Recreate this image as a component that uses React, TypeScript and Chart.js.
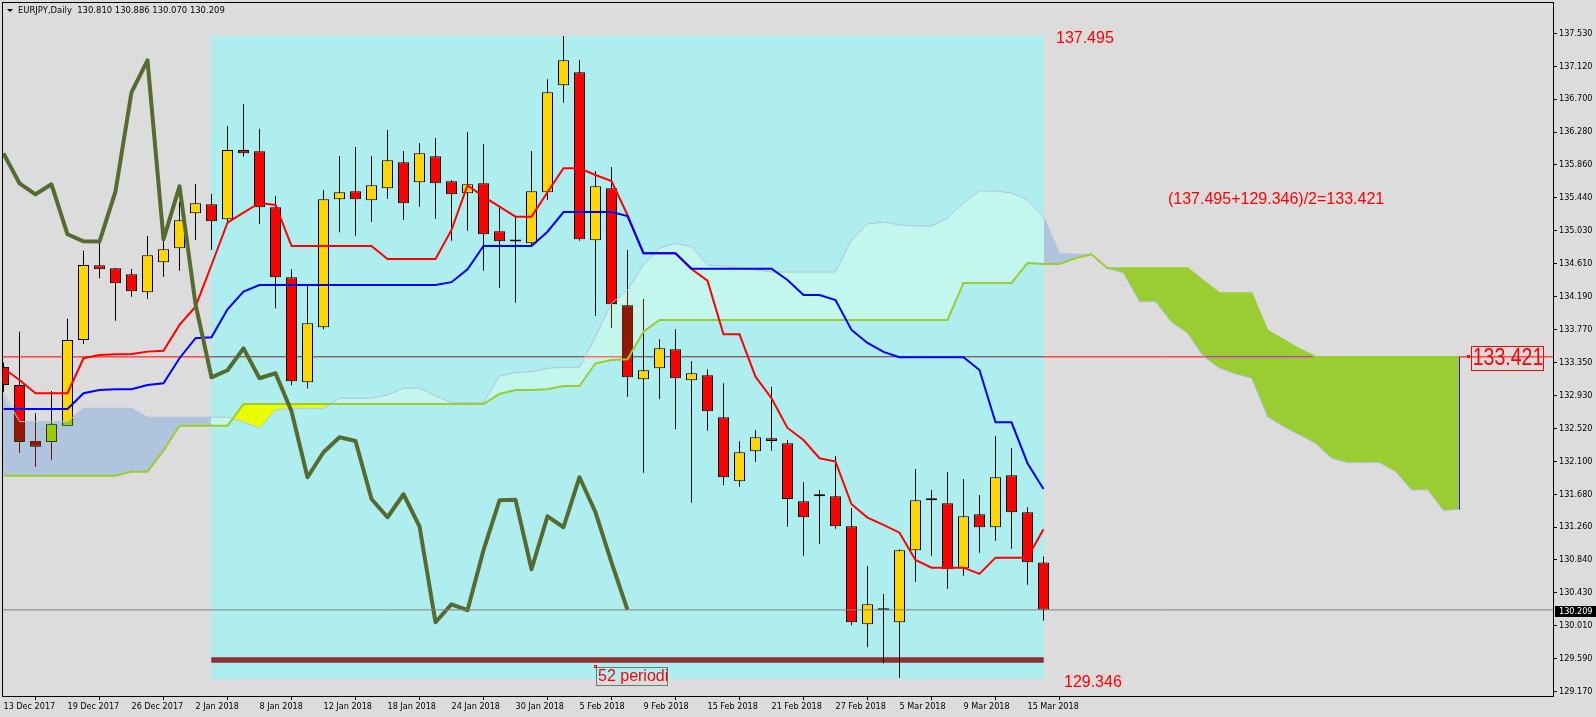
import React, { useEffect, useRef } from 'react';
import { Chart, registerables } from 'chart.js';

Chart.register(...registerables);

// ---------------- data ----------------
const titleText = 'EURJPY,Daily  130.810 130.886 130.070 130.209';

const dateLabels = ['13 Dec 2017', '19 Dec 2017', '26 Dec 2017', '2 Jan 2018', '8 Jan 2018', '12 Jan 2018', '18 Jan 2018', '24 Jan 2018', '30 Jan 2018', '5 Feb 2018', '9 Feb 2018', '15 Feb 2018', '21 Feb 2018', '27 Feb 2018', '5 Mar 2018', '9 Mar 2018', '15 Mar 2018'];
const dateTickBars = [0, 4, 8, 12, 16, 20, 24, 28, 32, 36, 40, 44, 48, 52, 56, 60, 64];

const priceTickValues = [129.170, 129.588, 130.006, 130.424, 130.842, 131.260, 131.678, 132.096, 132.514, 132.932, 133.350, 133.768, 134.186, 134.604, 135.022, 135.440, 135.858, 136.276, 136.694, 137.112, 137.530];
const priceTickLabels = ['129.170', '129.590', '130.010', '130.430', '130.840', '131.260', '131.680', '132.100', '132.520', '132.930', '133.350', '133.770', '134.190', '134.610', '135.030', '135.440', '135.860', '136.280', '136.700', '137.120', '137.530'];

const opens = [133.293, 133.064, 132.353, 132.337, 132.548, 133.636, 134.584, 134.546, 134.470, 134.241,
  134.622, 134.800, 135.245, 135.359, 135.168, 136.048, 136.032, 135.321, 134.432, 133.099,
  133.797, 135.422, 135.524, 135.410, 135.562, 135.892, 135.638, 135.968, 135.651, 135.498,
  135.625, 135.016, 134.892, 134.864, 135.511, 136.870, 137.035, 134.902, 135.562, 134.076,
  133.137, 133.277, 133.518, 133.124, 133.188, 132.654, 131.842, 132.223, 132.388, 132.324,
  131.588, 131.651, 131.651, 131.270, 130.026, 130.229, 130.051, 130.966, 131.600, 131.562,
  130.737, 131.423, 131.258, 131.918, 131.448, 130.810];
const highs = [133.350, 133.741, 132.705, 132.988, 133.906, 134.770, 134.871, 134.550, 134.537, 134.956,
  134.906, 135.392, 135.617, 135.490, 136.353, 136.632, 136.319, 135.464, 134.533, 134.334,
  135.540, 135.972, 136.086, 135.972, 136.302, 136.036, 136.137, 136.201, 135.667, 136.277,
  136.124, 135.321, 135.201, 136.036, 136.946, 137.495, 137.191, 135.782, 135.832, 134.779,
  134.156, 133.645, 133.772, 133.369, 133.264, 133.086, 132.350, 132.493, 133.043, 132.366,
  131.829, 131.731, 132.163, 131.503, 130.766, 130.411, 130.979, 131.998, 131.731, 131.960,
  131.871, 131.668, 132.417, 132.265, 131.512, 130.886];
const lows = [132.980, 132.205, 132.027, 132.112, 132.540, 133.585, 134.419, 133.881, 134.186, 134.160,
  134.440, 134.516, 134.906, 134.779, 135.118, 135.963, 135.109, 134.038, 133.061, 133.023,
  133.772, 135.003, 134.960, 135.138, 135.430, 135.163, 135.328, 135.176, 134.897, 135.024,
  134.516, 134.300, 134.109, 134.842, 135.413, 136.649, 134.897, 133.944, 133.792, 132.916,
  131.951, 132.883, 132.502, 131.570, 132.484, 131.791, 131.773, 132.091, 132.230, 131.265,
  130.897, 131.049, 131.240, 130.013, 129.734, 129.531, 129.346, 130.567, 130.897, 130.478,
  130.643, 130.935, 131.088, 130.986, 130.529, 130.070];
const closes = [133.065, 132.337, 132.281, 132.566, 133.636, 134.588, 134.533, 134.356, 134.254, 134.711,
  134.787, 135.156, 135.372, 135.143, 136.048, 136.006, 135.321, 134.432, 133.111, 133.848,
  135.422, 135.511, 135.422, 135.600, 135.917, 135.372, 136.006, 135.625, 135.486, 135.613,
  134.978, 134.889, 134.886, 135.524, 136.781, 137.187, 134.914, 135.587, 134.089, 133.162,
  133.251, 133.530, 133.150, 133.213, 132.731, 131.893, 132.210, 132.400, 132.353, 131.617,
  131.385, 131.677, 131.270, 130.051, 130.280, 130.204, 130.966, 131.600, 131.608, 130.724,
  131.397, 131.258, 131.893, 131.448, 130.813, 130.209];

const tenkan = [133.277, 133.128, 132.959, 132.959, 132.959, 133.404, 133.446, 133.455, 133.458, 133.488,
  133.500, 133.827, 134.059, 134.588, 135.125, 135.252, 135.376, 135.350, 134.830, 134.830,
  134.830, 134.830, 134.830, 134.830, 134.665, 134.665, 134.665, 134.665, 135.033, 135.600,
  135.456, 135.329, 135.202, 135.202, 135.511, 135.816, 135.816, 135.731, 135.655, 135.223,
  134.737, 134.737, 134.737, 134.538, 134.389, 133.708, 133.708, 133.170, 132.896, 132.519,
  132.366, 132.134, 132.091, 131.550, 131.380, 131.287, 131.189, 130.843, 130.745, 130.745,
  130.745, 130.665, 130.872, 130.872, 130.872, 131.233];
const kijun = [132.760, 132.760, 132.760, 132.760, 132.760, 132.959, 133.001, 133.010, 133.010, 133.065,
  133.086, 133.404, 133.658, 133.670, 134.026, 134.249, 134.334, 134.334, 134.334, 134.334,
  134.334, 134.334, 134.334, 134.334, 134.334, 134.334, 134.334, 134.334, 134.370, 134.534,
  134.830, 134.830, 134.830, 134.830, 135.011, 135.261, 135.261, 135.261, 135.261, 135.210,
  134.737, 134.737, 134.737, 134.541, 134.541, 134.541, 134.541, 134.541, 134.541, 134.398,
  134.207, 134.207, 134.144, 133.763, 133.598, 133.484, 133.416, 133.416, 133.416, 133.416,
  133.416, 133.255, 132.591, 132.591, 132.071, 131.744];
const chikou = [136.006, 135.625, 135.486, 135.613, 134.978, 134.889, 134.886, 135.524, 136.781, 137.187,
  134.914, 135.587, 134.089, 133.162, 133.251, 133.530, 133.150, 133.213, 132.731, 131.893,
  132.210, 132.400, 132.353, 131.617, 131.385, 131.677, 131.270, 130.051, 130.280, 130.204,
  130.966, 131.600, 131.608, 130.724, 131.397, 131.258, 131.893, 131.448, 130.813, 130.209];
const spanA = [132.963, 132.599, 132.599, 132.599, 132.599, 132.769, 132.769, 132.769, 132.769, 132.655,
  132.655, 132.655, 132.655, 132.655, 132.655, 132.595, 132.515, 132.747, 132.769, 132.769,
  132.769, 132.896, 132.896, 132.896, 132.938, 133.023, 133.023, 132.925, 132.840, 132.840,
  132.840, 133.179, 133.221, 133.233, 133.277, 133.289, 133.289, 133.678, 134.102, 134.271,
  134.588, 134.800, 134.864, 134.821, 134.588, 134.576, 134.550, 134.525, 134.499, 134.499,
  134.499, 134.499, 134.499, 134.906, 135.109, 135.134, 135.096, 135.083, 135.083, 135.185,
  135.376, 135.528, 135.528, 135.503, 135.414, 135.202, 134.737, 134.724, 134.724, 134.546,
  134.483, 134.122, 134.122, 133.861, 133.721, 133.424, 133.277, 133.204, 133.150, 132.662,
  132.535, 132.430, 132.324, 132.134, 132.078, 132.078, 132.078, 131.964, 131.731, 131.731,
  131.469, 131.486];
const spanB = [131.913, 131.913, 131.913, 131.913, 131.913, 131.913, 131.913, 131.913, 131.964, 131.964,
  132.233, 132.548, 132.548, 132.548, 132.548, 132.823, 132.823, 132.823, 132.823, 132.823,
  132.823, 132.823, 132.823, 132.823, 132.823, 132.823, 132.823, 132.823, 132.823, 132.823,
  132.823, 132.950, 133.001, 133.001, 133.010, 133.052, 133.052, 133.340, 133.382, 133.391,
  133.741, 133.890, 133.890, 133.890, 133.890, 133.890, 133.890, 133.890, 133.890, 133.890,
  133.890, 133.890, 133.890, 133.890, 133.890, 133.890, 133.890, 133.890, 133.890, 133.890,
  134.360, 134.360, 134.360, 134.360, 134.614, 134.601, 134.601, 134.673, 134.724, 134.546,
  134.546, 134.546, 134.546, 134.546, 134.546, 134.385, 134.229, 134.229, 134.229, 133.754,
  133.636, 133.518, 133.421, 133.421, 133.421, 133.421, 133.421, 133.421, 133.421, 133.421,
  133.421, 133.421];

const rangeHigh = 137.495;
const rangeLow = 129.346;
const midLevel = 133.421;
const lastClose = 130.209;
const markerLevel = 129.573;
const rangeStartBar = 13;
const rangeEndBar = 65;
const cloudEndBar = 91;

// ---------------- styles / layout ----------------
const W = 1596;
const H = 717;
const X_MIN = -0.03125;
const X_MAX = X_MIN + 1550 / 16;
const Y_MIN = 129.115;
const Y_MAX = 137.915;

const BG: number[] = [220, 220, 220];
const RECT_FILL: number[] = [175, 238, 238];
const CLOUD_A_UP: number[] = [176, 196, 222];
const CLOUD_B_UP: number[] = [154, 205, 50];
const xorOf = (a: number[], b: number[]) => [a[0] ^ b[0], a[1] ^ b[1], a[2] ^ b[2]];
const rgb = (c: number[]) => `rgb(${c[0]},${c[1]},${c[2]})`;

const AXIS_FONT = '"DejaVu Sans Condensed", "Liberation Sans", Arial, sans-serif';
const TEXT_FONT = '"Liberation Sans", Arial, sans-serif';

const annotations = [
  { text: '137.495', bar: 65.78, price: 137.462 },
  { text: '129.346', bar: 66.28, price: 129.280 },
  { text: '(137.495+129.346)/2=133.421', bar: 72.78, price: 135.413 },
];

function xorRect(chart: any) {
  const xs = chart.scales.x;
  const ys = chart.scales.y;
  const x0 = Math.round(xs.getPixelForValue(rangeStartBar) - 0.5);
  const x1 = Math.round(xs.getPixelForValue(rangeEndBar) - 0.5) + 1;
  const y0 = Math.round(ys.getPixelForValue(rangeHigh));
  const y1 = Math.round(ys.getPixelForValue(rangeLow)) + 1;
  const c = xorOf(BG, RECT_FILL);
  const ctx = chart.ctx as CanvasRenderingContext2D;
  const img = ctx.getImageData(x0, y0, x1 - x0, y1 - y0);
  const d = img.data;
  for (let i = 0; i < d.length; i += 4) {
    d[i] ^= c[0];
    d[i + 1] ^= c[1];
    d[i + 2] ^= c[2];
  }
  ctx.putImageData(img, x0, y0);
}

function xorCloud(chart: any) {
  const xs = chart.scales.x;
  const ys = chart.scales.y;
  const ca = chart.chartArea;
  const off = document.createElement('canvas');
  off.width = W;
  off.height = H;
  const o = off.getContext('2d') as CanvasRenderingContext2D;
  const n = spanA.length;
  const px = spanA.map((_, i) => xs.getPixelForValue(i));
  px[0] = ca.left - 2;
  const pa = spanA.map((v) => ys.getPixelForValue(v));
  const pb = spanB.map((v) => ys.getPixelForValue(v));
  const region = (line: number[], edge: number) => {
    o.beginPath();
    o.moveTo(px[0], edge);
    for (let i = 0; i < n; i++) o.lineTo(px[i], line[i]);
    o.lineTo(px[n - 1], edge);
    o.closePath();
  };
  o.save();
  region(pb, 0);
  o.clip();
  region(pa, H);
  o.fillStyle = 'rgb(255,0,0)';
  o.fill();
  o.restore();
  o.save();
  region(pa, 0);
  o.clip();
  region(pb, H);
  o.fillStyle = 'rgb(0,255,0)';
  o.fill();
  o.restore();

  const x0 = Math.floor(ca.left);
  const y0 = Math.floor(ca.top);
  const w = Math.ceil(ca.right) - x0;
  const h = Math.ceil(ca.bottom) - y0;
  const m = o.getImageData(x0, y0, w, h).data;
  const ctx = chart.ctx as CanvasRenderingContext2D;
  const img = ctx.getImageData(x0, y0, w, h);
  const d = img.data;
  const c1 = xorOf(BG, CLOUD_A_UP);
  const c2 = xorOf(BG, CLOUD_B_UP);
  for (let i = 0; i < d.length; i += 4) {
    if (m[i + 3] < 128) continue;
    const c = m[i] >= m[i + 1] ? c1 : c2;
    d[i] ^= c[0];
    d[i + 1] ^= c[1];
    d[i + 2] ^= c[2];
  }
  ctx.putImageData(img, x0, y0);
}

const lineBase = {
  type: 'line' as const,
  pointRadius: 0,
  pointHoverRadius: 0,
  tension: 0,
  fill: false,
  borderCapStyle: 'butt' as const,
  borderJoinStyle: 'miter' as const,
};

export default function App() {
  const ref = useRef<HTMLCanvasElement>(null);

  useEffect(() => {
    const canvas = ref.current;
    if (!canvas) return;
    const idx = closes.map((_, i) => i);
    const series = (arr: number[]) => arr.map((v, i) => ({ x: i, y: v }));

    const datasets: any[] = [
      {
        ...lineBase, label: 'midLevel', order: 100,
        data: [{ x: X_MIN, y: midLevel }, { x: X_MAX, y: midLevel }],
        borderColor: '#ff0000', borderWidth: 1,
      },
      {
        ...lineBase, label: 'marker', order: 99,
        data: [{ x: rangeStartBar, y: markerLevel }, { x: rangeEndBar, y: markerLevel }],
        borderColor: '#ff0000', borderWidth: 5,
      },
      {
        type: 'bar', label: 'wicks', order: 90,
        data: idx.map((i) => ({ x: i, y: [lows[i], highs[i]] })),
        backgroundColor: '#000000', borderWidth: 0, barThickness: 1,
        grouped: false, inflateAmount: 0,
      },
      {
        type: 'bar', label: 'bodies', order: 89,
        data: idx.map((i) => ({ x: i, y: [opens[i], closes[i]] })),
        backgroundColor: idx.map((i) => (closes[i] >= opens[i] ? '#ffd700' : '#ff0000')),
        borderColor: '#000000', borderWidth: 1, borderSkipped: false,
        barThickness: 11, grouped: false, inflateAmount: 0, minBarLength: 2,
      },
      {
        ...lineBase, label: 'spanA', order: 80,
        data: series(spanA), borderColor: rgb(CLOUD_A_UP), borderWidth: 1,
      },
      {
        ...lineBase, label: 'spanB', order: 79,
        data: series(spanB), borderColor: rgb(CLOUD_B_UP), borderWidth: 2,
      },
      {
        ...lineBase, label: 'tenkan', order: 70,
        data: series(tenkan), borderColor: '#ff0000', borderWidth: 2,
      },
      {
        ...lineBase, label: 'kijun', order: 69,
        data: series(kijun), borderColor: '#0000ff', borderWidth: 2,
      },
      {
        ...lineBase, label: 'chikou', order: 60,
        data: series(chikou), borderColor: '#556b2f', borderWidth: 4, borderJoinStyle: 'round',
      },
      {
        ...lineBase, label: 'cloudEdge', order: 55,
        data: [{ x: cloudEndBar, y: spanB[cloudEndBar] }, { x: cloudEndBar, y: spanA[cloudEndBar] }],
        borderColor: 'rgb(70,17,238)', borderWidth: 1,
      },
      {
        ...lineBase, label: 'lastPrice', order: 50,
        data: [{ x: X_MIN, y: lastClose }, { x: X_MAX, y: lastClose }],
        borderColor: '#808080', borderWidth: 1,
      },
    ];

    const bgPlugin = {
      id: 'mt4bg',
      beforeDraw(chart: any) {
        const ctx = chart.ctx as CanvasRenderingContext2D;
        ctx.save();
        ctx.fillStyle = rgb(BG);
        ctx.fillRect(0, 0, chart.width, chart.height);
        ctx.restore();
      },
    };

    const xorPlugin = {
      id: 'mt4xor',
      beforeDatasetDraw(chart: any, args: any) {
        if (chart.data.datasets[args.index].label === 'wicks') xorRect(chart);
      },
      afterDatasetDraw(chart: any, args: any) {
        if (chart.data.datasets[args.index].label === 'bodies') xorCloud(chart);
      },
    };

    const textPlugin = {
      id: 'mt4text',
      afterDraw(chart: any) {
        const ctx = chart.ctx as CanvasRenderingContext2D;
        const xs = chart.scales.x;
        const ys = chart.scales.y;
        const ca = chart.chartArea;
        ctx.save();
        ctx.strokeStyle = '#000';
        ctx.lineWidth = 1;
        ctx.strokeRect(ca.left - 0.5, ca.top - 0.5, ca.right - ca.left + 1, ca.bottom - ca.top + 1);

        ctx.fillStyle = '#000';
        ctx.beginPath();
        ctx.moveTo(7, 9);
        ctx.lineTo(13, 9);
        ctx.lineTo(10, 12);
        ctx.closePath();
        ctx.fill();
        ctx.font = `9.4px ${AXIS_FONT}`;
        ctx.textBaseline = 'middle';
        ctx.textAlign = 'left';
        ctx.fillText(titleText, 18, 11);

        ctx.fillStyle = '#ff0000';
        ctx.font = `16px ${TEXT_FONT}`;
        annotations.forEach((a) => {
          ctx.fillText(a.text, xs.getPixelForValue(a.bar), ys.getPixelForValue(a.price));
        });

        const bx = Math.round(xs.getPixelForValue(37));
        const by = Math.round(ys.getPixelForValue(129.483));
        ctx.strokeStyle = '#707878';
        ctx.strokeRect(bx + 0.5, by + 0.5, 71, 18);
        ctx.fillStyle = '#ff0000';
        ctx.fillText('52 periodi', bx + 2, by + 10);
        ctx.strokeStyle = '#ff0000';
        ctx.strokeRect(bx - 1.5, by - 1.5, 2, 2);

        const lx = Math.round(xs.getPixelForValue(cloudEndBar)) + 11;
        const ly = Math.round(ys.getPixelForValue(midLevel));
        ctx.strokeStyle = '#ff0000';
        ctx.strokeRect(lx - 3.5, ly - 1.5, 2, 2);
        ctx.strokeRect(lx + 0.5, ly - 10.5, 72, 24);
        ctx.save();
        ctx.translate(lx + 37, ly + 2);
        ctx.scale(0.85, 1);
        ctx.font = `23px ${TEXT_FONT}`;
        ctx.textAlign = 'center';
        ctx.fillStyle = '#ff0000';
        ctx.fillText(midLevel.toFixed(3), 0, 0);
        ctx.restore();

        const ty = ys.getPixelForValue(lastClose);
        ctx.fillStyle = '#000';
        ctx.fillRect(ca.right + 2, Math.round(ty) - 4, W - ca.right - 2, 11);
        ctx.fillStyle = '#fff';
        ctx.font = `9px ${AXIS_FONT}`;
        ctx.textAlign = 'left';
        ctx.fillText(lastClose.toFixed(3), ca.right + 6, Math.round(ty) + 1.5);
        ctx.restore();
      },
    };

    const tickFont = { family: AXIS_FONT, size: 9 };

    const chart = new Chart(canvas, {
      type: 'line',
      data: { datasets },
      options: {
        animation: false,
        responsive: false,
        devicePixelRatio: 1,
        events: [],
        layout: { padding: { left: 3, top: 3, right: 0, bottom: 0 }, autoPadding: false },
        plugins: { legend: { display: false }, tooltip: { enabled: false } },
        scales: {
          x: {
            type: 'linear', position: 'bottom', min: X_MIN, max: X_MAX, offset: false,
            afterFit: (s: any) => { s.height = 21; s.paddingLeft = 0; s.paddingRight = 0; s.paddingTop = 0; s.paddingBottom = 0; },
            afterBuildTicks: (s: any) => { s.ticks = dateTickBars.map((v) => ({ value: v })); },
            grid: { drawOnChartArea: false, drawTicks: true, tickLength: 4, color: '#000', lineWidth: 1 },
            border: { display: false },
            ticks: {
              autoSkip: false, maxRotation: 0, minRotation: 0, align: 'start', padding: 1,
              color: '#000', font: tickFont,
              callback: (_v: any, i: number) => dateLabels[i],
            },
          },
          y: {
            type: 'linear', position: 'right', min: Y_MIN, max: Y_MAX,
            afterFit: (s: any) => { s.width = 43; s.paddingTop = 0; s.paddingBottom = 0; s.paddingLeft = 0; s.paddingRight = 0; },
            afterBuildTicks: (s: any) => { s.ticks = priceTickValues.map((v) => ({ value: v })); },
            grid: { drawOnChartArea: false, drawTicks: true, tickLength: 4, color: '#000', lineWidth: 1 },
            border: { display: false },
            ticks: {
              autoSkip: false, padding: 2, color: '#000', font: tickFont,
              callback: (_v: any, i: number) => priceTickLabels[i],
            },
          },
        },
      } as any,
      plugins: [bgPlugin, xorPlugin, textPlugin],
    });
    return () => chart.destroy();
  }, []);

  return (
    <div style={{ position: 'fixed', left: 0, top: 0, width: W, height: H, background: rgb(BG) }}>
      <canvas ref={ref} width={W} height={H} style={{ display: 'block', width: W, height: H }} />
    </div>
  );
}
